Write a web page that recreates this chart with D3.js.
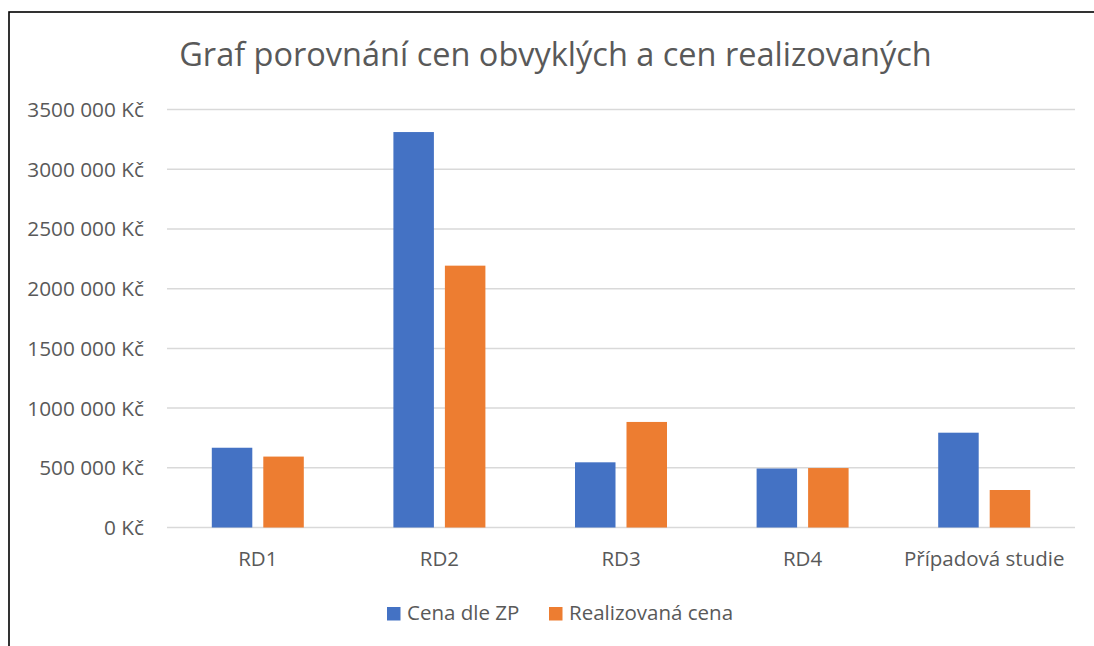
<!DOCTYPE html>
<html>
<head>
<meta charset="utf-8">
<script src="https://cdn.jsdelivr.net/npm/d3@7"></script>
<style>
  body { margin: 0; background: #fff; }
  svg { display: block; font-family: "Open Sans", sans-serif; }
</style>
</head>
<body>
<svg id="chart" width="1094" height="646"></svg>
<script>
/* global d3 */

let categories = ['RD1', 'RD2', 'RD3', 'RD4', 'Případová studie']
let seriesNames = ['Cena dle ZP', 'Realizovaná cena']
let cenaDleZP = [668000, 3312000, 546000, 494000, 794000]
let realizovanaCena = [594000, 2193000, 884000, 498000, 314000]
let yTicks = [0, 500000, 1000000, 1500000, 2000000, 2500000, 3000000, 3500000]
let colors = ['#4472C4', '#ED7D31']

let svg = d3.select('#chart')
let textColor = '#595959'

// frame of the chart area
svg.append('rect')
  .attr('x', 9).attr('y', 12)
  .attr('width', 1110).attr('height', 660)
  .attr('fill', 'none')
  .attr('stroke', '#000')
  .attr('stroke-width', 1.6)

let plotLeft = 167, plotRight = 1075, plotTop = 109.6, plotBottom = 527.5

let y = d3.scaleLinear().domain([0, 3500000]).range([plotBottom, plotTop])

let x0 = d3.scaleBand()
  .domain(categories)
  .range([plotLeft, plotRight])
  .paddingInner(0.4934)
  .paddingOuter(0.4934 / 2)

let x1 = d3.scaleBand()
  .domain(seriesNames)
  .range([0, x0.bandwidth()])
  .paddingInner(0.2136)

// "3500 000 Kč" style, as in the original
let kc = (d) => {
  if (d === 0) return '0 Kč'
  let millions = Math.floor(d / 1000000)
  let rest = Math.round((d % 1000000) / 1000)
  if (millions > 0) return millions + String(rest).padStart(3, '0') + ' 000 Kč'
  return rest + ' 000 Kč'
}

// gridlines
svg.append('g').selectAll('line').data(yTicks).enter().append('line')
  .attr('x1', plotLeft).attr('x2', plotRight)
  .attr('y1', (d) => y(d)).attr('y2', (d) => y(d))
  .attr('stroke', '#d9d9d9')
  .attr('stroke-width', 1.5)

// y labels
svg.append('g').selectAll('text').data(yTicks).enter().append('text')
  .attr('x', 144)
  .attr('y', (d) => y(d))
  .attr('dy', '0.36em')
  .attr('text-anchor', 'end')
  .attr('font-size', 20.8)
  .attr('fill', textColor)
  .text((d) => kc(d))

// bars
let rows = categories.map((c, i) => ({cat: c, values: [cenaDleZP[i], realizovanaCena[i]]}))

let groups = svg.append('g').selectAll('g').data(rows).enter().append('g')
  .attr('transform', (d) => `translate(${x0(d.cat)},0)`)

groups.selectAll('rect')
  .data((d) => d.values.map((v, k) => ({name: seriesNames[k], value: v, k: k})))
  .enter().append('rect')
  .attr('x', (d) => x1(d.name))
  .attr('y', (d) => y(d.value))
  .attr('width', x1.bandwidth())
  .attr('height', (d) => plotBottom - y(d.value))
  .attr('fill', (d) => colors[d.k])

// x labels
svg.append('g').selectAll('text').data(categories).enter().append('text')
  .attr('x', (d) => x0(d) + x0.bandwidth() / 2)
  .attr('y', 566)
  .attr('text-anchor', 'middle')
  .attr('font-size', 20.5)
  .attr('fill', textColor)
  .text((d) => d)

// title
svg.append('text')
  .attr('x', 555.5)
  .attr('y', 66)
  .attr('text-anchor', 'middle')
  .attr('font-size', 32.5)
  .attr('fill', textColor)
  .text('Graf porovnání cen obvyklých a cen realizovaných')

// legend
let legendX = [387, 549]
let legend = svg.append('g').selectAll('g').data(seriesNames).enter().append('g')
  .attr('transform', (d, i) => `translate(${legendX[i]},0)`)

legend.append('rect')
  .attr('x', 0).attr('y', 607)
  .attr('width', 13.5).attr('height', 13.5)
  .attr('fill', (d, i) => colors[i])

legend.append('text')
  .attr('x', 20)
  .attr('y', 619.5)
  .attr('font-size', 20.5)
  .attr('fill', textColor)
  .text((d) => d)
</script>
</body>
</html>
